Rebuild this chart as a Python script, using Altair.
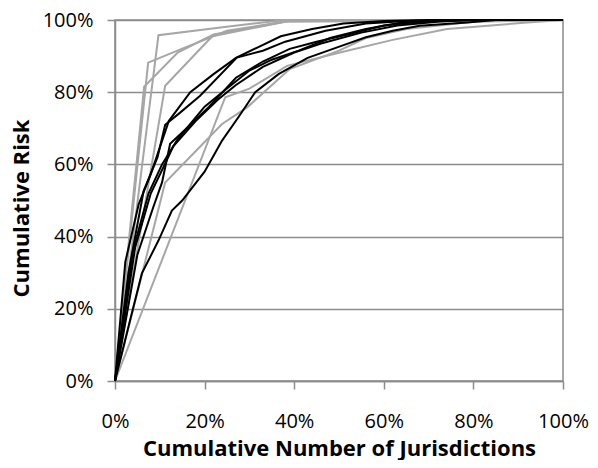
import altair as alt
import pandas as pd

# Gray series (x = cumulative % of jurisdictions, y = cumulative % risk)
g1_x = [0, 9.7, 24, 38, 100]
g1_y = [0, 95.8, 98, 100, 100]
g2_x = [0, 7.4, 15.3, 25, 40, 100]
g2_y = [0, 88.2, 92.2, 97, 100, 100]
g3_x = [0, 6.5, 14, 22, 40, 100]
g3_y = [0, 81.5, 91, 96, 100, 100]
g4_x = [0, 11.2, 21.7, 38, 100]
g4_y = [0, 81.8, 95.5, 99.5, 100]
g5_x = [0, 24.6, 30, 38.4, 50.2, 62, 74.1, 92, 100]
g5_y = [0, 78.6, 81, 87.3, 91, 94.5, 97.5, 99.3, 100]
g6_x = [0, 11.2, 23.9, 29.5, 39, 50, 56, 65, 80, 100]
g6_y = [0, 55, 71.2, 75.8, 86.4, 91.5, 95, 97.5, 99.5, 100]

# Black series
b1_x = [0, 2.3, 5.3, 7.9, 12, 16.8, 22, 27, 32, 37, 44, 51, 60, 70, 100]
b1_y = [0, 33, 49, 57, 72, 80, 85, 89.5, 92.5, 95.5, 97.5, 99, 99.7, 100, 100]
b2_x = [0, 3, 6.4, 9.5, 11.2, 14.2, 19, 27.2, 33, 38, 47, 56, 65, 75, 100]
b2_y = [0, 30, 52.7, 62, 71, 74, 79, 89.6, 91.5, 94, 97, 99, 99.7, 100, 100]
b3_x = [0, 4, 7.5, 10.5, 14, 20, 25, 30, 35, 41, 48, 56, 64, 75, 100]
b3_y = [0, 36, 52, 60, 67, 76, 81, 86, 89, 91.5, 95, 97.5, 99.3, 100, 100]
b4_x = [0, 4.5, 8, 11.5, 13, 18, 23, 27, 33, 40, 46, 55, 63, 72, 80, 100]
b4_y = [0, 37, 52, 61, 65, 72, 78, 82, 87, 91, 93.5, 96.5, 98.5, 99.5, 100, 100]
b5_x = [0, 5, 8.5, 10.5, 12.3, 16, 21, 27, 33, 39, 45, 52, 60, 70, 80, 100]
b5_y = [0, 35, 48, 55, 65.7, 70, 76, 84, 88.5, 92, 94, 96, 98.5, 99.7, 100, 100]
b6_x = [0, 3, 6, 9.7, 12.7, 15, 20, 23.9, 27.5, 31.3, 36.5, 43, 50.7, 56, 62, 68, 78.6, 85, 100]
b6_y = [0, 15, 29.8, 38.9, 47.2, 50, 58, 66.6, 73, 80, 85, 89.5, 92.9, 95.2, 97, 98.4, 99.3, 100, 100]

gray_series = {"g1": (g1_x, g1_y), "g2": (g2_x, g2_y), "g3": (g3_x, g3_y),
               "g4": (g4_x, g4_y), "g5": (g5_x, g5_y), "g6": (g6_x, g6_y)}
black_series = {"b1": (b1_x, b1_y), "b2": (b2_x, b2_y), "b3": (b3_x, b3_y),
                "b4": (b4_x, b4_y), "b5": (b5_x, b5_y), "b6": (b6_x, b6_y)}

def to_df(series):
    rows = []
    for name, (xs, ys) in series.items():
        for i, (x, y) in enumerate(zip(xs, ys)):
            rows.append({"series": name, "idx": i, "x": x, "y": y})
    return pd.DataFrame(rows)

gray_df = to_df(gray_series)
black_df = to_df(black_series)

FONT = "Open Sans"
GRID = "#8c8c8c"

xenc = alt.X("x:Q", scale=alt.Scale(domain=[0, 100], nice=False),
             axis=alt.Axis(values=[0, 20, 40, 60, 80, 100], labelExpr="datum.value + '%'",
                           title="Cumulative Number of Jurisdictions", grid=False,
                           tickSize=8, tickColor=GRID, tickWidth=1.5,
                           domainColor=GRID, domainWidth=1.5,
                           labelPadding=22, labelFontSize=20, labelFont=FONT, labelColor="#000",
                           labelOverlap=False, labelFlush=False,
                           titleFontSize=22, titleFont=FONT, titleFontWeight="bold", titleColor="#000",
                           titleBaseline="middle", titleY=67))
yenc = alt.Y("y:Q", scale=alt.Scale(domain=[0, 100], nice=False),
             axis=alt.Axis(values=[0, 20, 40, 60, 80, 100], labelExpr="datum.value + '%'",
                           title="Cumulative Risk", grid=True, gridColor=GRID, gridWidth=1.5,
                           tickSize=8, tickColor=GRID, tickWidth=1.5,
                           domainColor=GRID, domainWidth=1.5,
                           labelPadding=14, labelFontSize=20, labelFont=FONT, labelColor="#000",
                           labelOverlap=False, labelFlush=False,
                           titleFontSize=22, titleFont=FONT, titleFontWeight="bold", titleColor="#000",
                           titleBaseline="middle", titleX=-94, titleY=188))

gray = alt.Chart(gray_df).mark_line(color="#a6a6a6", strokeWidth=2).encode(
    x=xenc, y=yenc, detail="series:N", order="idx:Q")
black = alt.Chart(black_df).mark_line(color="#000000", strokeWidth=2).encode(
    x="x:Q", y="y:Q", detail="series:N", order="idx:Q")

chart = alt.layer(gray, black).properties(
    width=448, height=361,
    autosize=alt.AutoSizeParams(type="none"),
    padding={"left": 107, "top": 12, "right": 27, "bottom": 79},
    background="white",
).configure_view(stroke=GRID, strokeWidth=1.5)

chart.save("out.html", embed_options={"renderer": "svg", "actions": False})
